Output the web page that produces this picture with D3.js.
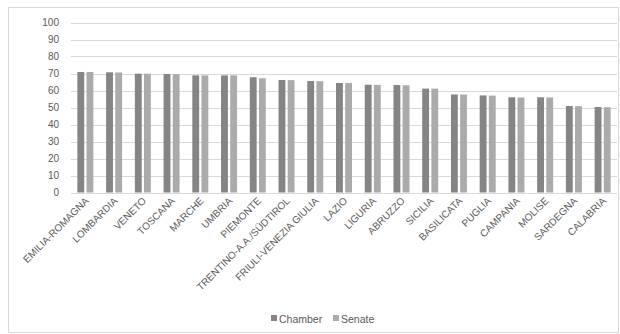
<!DOCTYPE html>
<meta charset="utf-8">
<html>
<head>
<title>Turnout by region</title>
<style>
    body { margin: 0; background: #fff; }
    text { font-family: "Liberation Sans", Arial, sans-serif; fill: #595959; }
    g.xlabels { opacity: 0.99; }
</style>
<script src="https://cdn.jsdelivr.net/npm/d3@7"></script>
</head>
<body>
<script>

    var width = 620, height = 334;

    // regions, ordered as in the chart
    var regions = ["EMILIA-ROMAGNA", "LOMBARDIA", "VENETO", "TOSCANA", "MARCHE", "UMBRIA",
                   "PIEMONTE", "TRENTINO-A.A./SÜDTIROL", "FRIULI-VENEZIA GIULIA", "LAZIO",
                   "LIGURIA", "ABRUZZO", "SICILIA", "BASILICATA", "PUGLIA", "CAMPANIA",
                   "MOLISE", "SARDEGNA", "CALABRIA"];
    var chamber = [70.9, 70.7, 69.9, 69.7, 68.9, 68.9, 67.8, 66.2, 65.6, 64.4,
                   63.4, 63.2, 61.1, 57.7, 57.1, 56.0, 56.0, 50.9, 50.3];
    var senate  = [70.9, 70.6, 69.9, 69.6, 68.9, 68.9, 67.2, 66.1, 65.5, 64.4,
                   63.3, 63.1, 61.1, 57.6, 57.0, 55.9, 55.9, 50.8, 50.2];
    var series = ["Chamber", "Senate"];
    var colors = ["#858585", "#ababab"];
    var yTicks = [0, 10, 20, 30, 40, 50, 60, 70, 80, 90, 100];

    var plot = {left: 71, right: 617, top: 22.5, bottom: 192.5};

    var svg = d3.select("body").append("svg")
        .attr("width", width)
        .attr("height", height);

    // outer frame
    svg.append("rect")
        .attr("x", 8.5).attr("y", 7.5)
        .attr("width", 610).attr("height", 325)
        .attr("fill", "none")
        .attr("stroke", "#d9d9d9");

    var x = d3.scaleBand().domain(regions).range([plot.left, plot.right]);
    var x1 = d3.scaleBand().domain(series).range([x.bandwidth()/2 - 8, x.bandwidth()/2 + 8]).paddingInner(0.25);
    var y = d3.scaleLinear().domain([0, 100]).range([plot.bottom, plot.top]);

    // gridlines
    svg.append("g").selectAll("line")
      .data(yTicks)
      .enter().append("line")
      .attr("x1", plot.left).attr("x2", plot.right)
      .attr("y1", d => Math.round(y(d)) + 0.5)
      .attr("y2", d => Math.round(y(d)) + 0.5)
      .attr("stroke", "#d9d9d9");

    // y tick labels
    svg.append("g").selectAll("text")
      .data(yTicks)
      .enter().append("text")
      .attr("x", 59)
      .attr("y", d => y(d))
      .attr("dy", "0.35em")
      .attr("text-anchor", "end")
      .style("font-size", "10px")
      .text(d => d);

    // bars
    var rows = regions.map((r, i) => ({region: r, values: [chamber[i], senate[i]]}));
    var groups = svg.append("g").selectAll("g")
      .data(rows)
      .enter().append("g")
      .attr("transform", d => `translate(${x(d.region)},0)`);

    groups.selectAll("rect")
      .data(d => d.values.map((v, j) => ({key: series[j], value: v, j: j})))
      .enter().append("rect")
      .attr("x", d => x1(d.key))
      .attr("width", x1.bandwidth())
      .attr("y", d => y(d.value))
      .attr("height", d => y(0) - y(d.value))
      .attr("fill", d => colors[d.j]);

    // category labels, rotated
    svg.append("g").attr("class", "xlabels").selectAll("text")
      .data(regions)
      .enter().append("text")
      .attr("transform", d => `translate(${x(d) + x.bandwidth()/2 + 4},${plot.bottom + 9}) rotate(-45)`)
      .attr("text-anchor", "end")
      .style("font-size", "10px")
      .text(d => d);

    // legend
    var legend = svg.append("g").attr("transform", "translate(271,319)");
    var lx = [0, 62];
    series.forEach(function(s, i) {
        legend.append("rect")
          .attr("x", lx[i]).attr("y", -4)
          .attr("width", 6).attr("height", 6)
          .attr("fill", colors[i]);
        legend.append("text")
          .attr("x", lx[i] + 8).attr("y", 0)
          .attr("dy", "0.35em")
          .style("font-size", "10.5px")
          .text(s);
    });

</script>
</body>
</html>
